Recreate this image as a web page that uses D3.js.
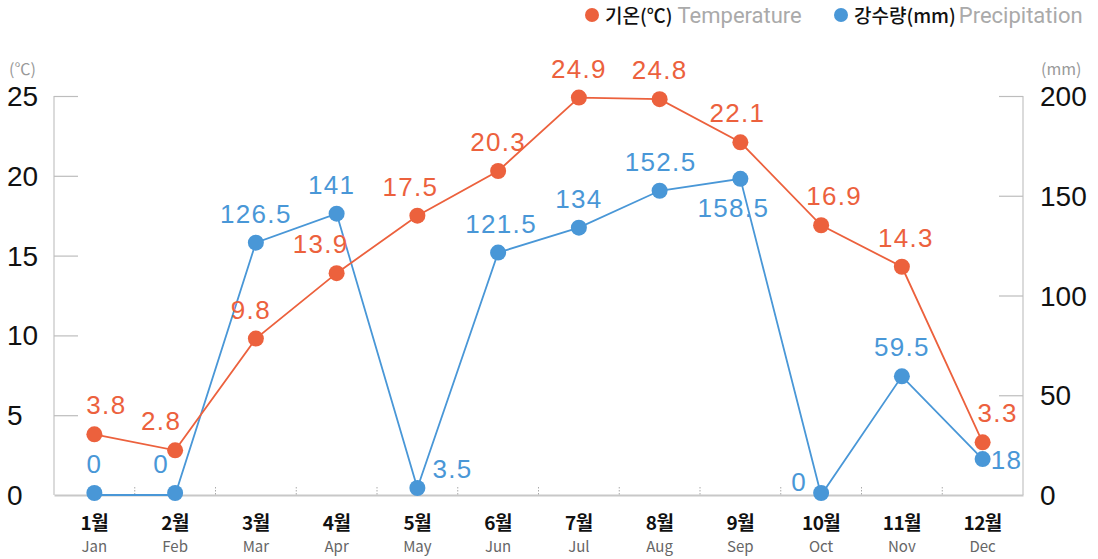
<!DOCTYPE html>
<html><head><meta charset="utf-8">
<script src="https://cdn.jsdelivr.net/npm/d3@7/dist/d3.min.js"></script>
<style>
body{margin:0;background:#fff;}
svg{display:block;font-family:"Noto Sans CJK KR","Noto Sans",sans-serif;}
</style></head>
<body>
<svg id="c" width="1098" height="559"></svg>
<script>
const monthsKo = ["1월","2월","3월","4월","5월","6월","7월","8월","9월","10월","11월","12월"];
const monthsEn = ["Jan","Feb","Mar","Apr","May","Jun","Jul","Aug","Sep","Oct","Nov","Dec"];
const temperature = [3.8,2.8,9.8,13.9,17.5,20.3,24.9,24.8,22.1,16.9,14.3,3.3];
const precipitation = [0,0,126.5,141,3.5,121.5,134,152.5,158.5,0,59.5,18];
const tempTicks = [0,5,10,15,20,25];
const precTicks = [0,50,100,150,200];

// label placement tweaks (layout only)
const tempLabelDx = [12,-14,-5,-16,-7,0,0,0,-3,13,4,15];
const precLabelDx = [0,-14,0,-5,0,3,0,1,0,-22,0,0];

const ORANGE = "#ec613d", BLUE = "#4997d7";
const NUMFONT = "Liberation Sans, Arial, sans-serif";
const svg = d3.select("#c");
const L = 54, R = 1023, T = 96, B = 495;

const x = d3.scaleBand().domain(monthsKo).range([L, R]);
const yT = d3.scaleLinear().domain([0,25]).range([B, T]);
const yP = d3.scaleLinear().domain([0,200]).range([B, T]);
const cx = i => x(monthsKo[i]) + x.bandwidth()/2;

// axes
const axisG = svg.append("g");
axisG.append("line").attr("x1",L).attr("x2",L).attr("y1",T).attr("y2",B).attr("stroke","#c8c8c8").attr("stroke-width",1.3);
axisG.append("line").attr("x1",R).attr("x2",R).attr("y1",T).attr("y2",B).attr("stroke","#c8c8c8").attr("stroke-width",1.3);

const gl = svg.append("g").attr("transform",`translate(${L},0)`)
  .call(d3.axisRight(yT).tickValues(tempTicks).tickSize(24).tickFormat(""));
gl.select(".domain").remove();
gl.selectAll(".tick line").attr("stroke","#bdbdbd").attr("stroke-width",1.2);
gl.selectAll(".tick").filter(d=>d===0).remove();

const gr = svg.append("g").attr("transform",`translate(${R},0)`)
  .call(d3.axisLeft(yP).tickValues(precTicks).tickSize(24).tickFormat(""));
gr.select(".domain").remove();
gr.selectAll(".tick line").attr("stroke","#bdbdbd").attr("stroke-width",1.2);
gr.selectAll(".tick").filter(d=>d===0).remove();

// tick labels
svg.append("g").selectAll("text").data(tempTicks).join("text")
  .attr("x",7).attr("y",d=>yT(d)+10).attr("font-size",28).attr("fill","#111")
  .attr("font-family",NUMFONT).text(d=>d);
svg.append("g").selectAll("text").data(precTicks).join("text")
  .attr("x",1040).attr("y",d=>yP(d)+10).attr("font-size",28).attr("fill","#111")
  .attr("font-family",NUMFONT).text(d=>d);
svg.append("text").attr("x",9).attr("y",75).attr("font-size",16).attr("fill","#999").text("(℃)");
svg.append("text").attr("x",1041).attr("y",75).attr("font-size",16).attr("fill","#999").text("(mm)");

// bottom axis
const gb = svg.append("g").attr("transform",`translate(0,${B})`)
  .call(d3.axisBottom(x).tickSize(0).tickFormat(""));
gb.select(".domain").attr("stroke","#c8c8c8").attr("stroke-width",2);
svg.append("g").selectAll("line").data(monthsKo.slice(1)).join("line")
  .attr("x1",d=>x(d)).attr("x2",d=>x(d)).attr("y1",B-8).attr("y2",B)
  .attr("stroke","#aaa").attr("stroke-width",1).attr("stroke-dasharray","1.5,1.5");

svg.append("g").selectAll("text").data(monthsKo).join("text")
  .attr("x",(d,i)=>cx(i)).attr("y",530).attr("text-anchor","middle")
  .attr("font-size",19).attr("font-weight",700).attr("fill","#111").attr("letter-spacing",-0.5).text(d=>d);
svg.append("g").selectAll("text").data(monthsEn).join("text")
  .attr("x",(d,i)=>cx(i)).attr("y",552).attr("text-anchor","middle")
  .attr("font-size",15).attr("fill","#666").text(d=>d);

// lines
const lineT = d3.line().x((d,i)=>cx(i)).y(d=>yT(d));
const lineP = d3.line().x((d,i)=>cx(i)).y(d=>yP(d));
svg.append("path").datum(precipitation).attr("d",lineP).attr("fill","none").attr("stroke",BLUE).attr("stroke-width",1.8);
svg.append("path").datum(temperature).attr("d",lineT).attr("fill","none").attr("stroke",ORANGE).attr("stroke-width",1.8);

svg.append("g").selectAll("circle").data(precipitation).join("circle")
  .attr("cx",(d,i)=>cx(i)).attr("cy",d=>Math.min(yP(d),B-2)).attr("r",8).attr("fill",BLUE);
svg.append("g").selectAll("circle").data(temperature).join("circle")
  .attr("cx",(d,i)=>cx(i)).attr("cy",d=>yT(d)).attr("r",8).attr("fill",ORANGE);

// value labels
const fs = 26, ls = 1.3;
svg.append("g").selectAll("text").data(temperature).join("text")
  .attr("x",(d,i)=>cx(i)+tempLabelDx[i]).attr("y",d=>yT(d)-20)
  .attr("text-anchor","middle").attr("font-size",fs).attr("letter-spacing",ls)
  .attr("font-family",NUMFONT).attr("fill",ORANGE).text(d=>d);

const precLab = svg.append("g").selectAll("text").data(precipitation).join("text")
  .attr("font-size",fs).attr("letter-spacing",ls).attr("font-family",NUMFONT).attr("fill",BLUE).text(d=>d)
  .attr("text-anchor","middle")
  .attr("x",(d,i)=>cx(i)+precLabelDx[i]).attr("y",d=>Math.min(yP(d),B-2)-20);
precLab.filter((d,i)=>i===4).attr("text-anchor","start").attr("x",cx(4)+15).attr("y",yP(3.5)-10);
precLab.filter((d,i)=>i===8).attr("x",cx(8)-7).attr("y",yP(158.5)+38);
precLab.filter((d,i)=>i===9).attr("text-anchor","end").attr("x",cx(9)-14).attr("y",B-4);
precLab.filter((d,i)=>i===11).attr("text-anchor","start").attr("x",cx(11)+8).attr("y",yP(18)+10);

// legend
const lg = svg.append("g");
lg.append("circle").attr("cx",592).attr("cy",15).attr("r",7).attr("fill",ORANGE);
const t1 = lg.append("text").attr("x",605).attr("y",23);
t1.append("tspan").attr("fill","#111").attr("font-weight",500).attr("font-size",19).text("기온(℃)");
t1.append("tspan").attr("fill","#aaa").attr("dx",5).attr("font-size",22).attr("font-family","Roboto, sans-serif").text("Temperature");
lg.append("circle").attr("cx",841).attr("cy",15).attr("r",7).attr("fill",BLUE);
const t2 = lg.append("text").attr("x",854).attr("y",23);
t2.append("tspan").attr("fill","#111").attr("font-weight",500).attr("font-size",19).text("강수량(mm)");
t2.append("tspan").attr("fill","#aaa").attr("dx",3).attr("font-size",22).attr("font-family","Roboto, sans-serif").text("Precipitation");
</script>
</body></html>
